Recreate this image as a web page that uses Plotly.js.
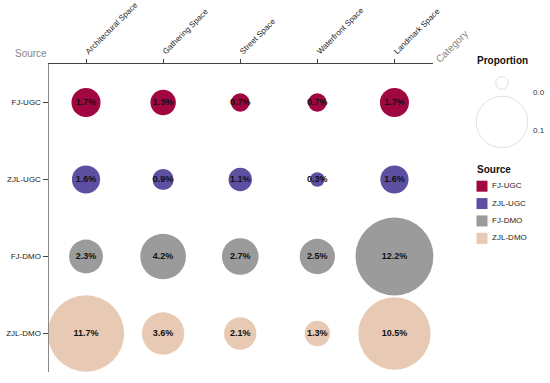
<!DOCTYPE html>
<html><head><meta charset="utf-8">
<script src="https://cdn.plot.ly/plotly-3.0.1.min.js"></script>
<style>body{margin:0;padding:0;background:#fff}#chart{width:550px;height:383px}</style>
</head><body><div id="chart"></div>
<script>
const categories = ["Architectural Space","Gathering Space","Street Space","Waterfront Space","Landmark Space"];
const sources = ["FJ-UGC","ZJL-UGC","FJ-DMO","ZJL-DMO"];
const fjUgc  = [0.017, 0.013, 0.007, 0.007, 0.017];
const zjlUgc = [0.016, 0.009, 0.011, 0.003, 0.016];
const fjDmo  = [0.023, 0.042, 0.027, 0.025, 0.122];
const zjlDmo = [0.117, 0.036, 0.021, 0.013, 0.105];
const seriesValues = [fjUgc, zjlUgc, fjDmo, zjlDmo];
const colors = ["#A0063F","#5E4FA2","#9B9B9B","#E8C9B3"];
const legendValues = [0.0, 0.1];
const legendLabels = ["0.0","0.1"];

function diam(v){ return Math.max(14.5, 22.3*Math.sqrt(v*100)); }
function legDiam(v){ return 12.5 + 390*v; }

const FONT = "Liberation Sans, Arial, sans-serif";
const traces = [];
sources.forEach((s,i)=>{
  traces.push({
    type:'scatter', mode:'markers+text', x: categories, y: categories.map(()=>s),
    text: seriesValues[i].map(v=>(v*100).toFixed(1)+'%'),
    textposition:'middle center',
    textfont:{family:FONT,size:9,color:'#111',weight:'bold'},
    marker:{size: seriesValues[i].map(diam), color: colors[i], opacity:1, line:{width:0}},
    showlegend:false, hoverinfo:'skip', cliponaxis:false
  });
});
// proportion legend
traces.push({type:'scatter', mode:'markers', xaxis:'x2', yaxis:'y2',
  x: legendValues.map(()=>0), y: legendValues,
  marker:{size: legendValues.map(legDiam), color:'rgba(255,255,255,0)', line:{color:'#d4d4d4', width:1}},
  showlegend:false, hoverinfo:'skip', cliponaxis:false});
// source legend
traces.push({type:'scatter', mode:'markers+text', xaxis:'x3', yaxis:'y3',
  x: sources.map(()=>0), y: sources, text: sources.map(s=>' '+s), textposition:'middle right',
  textfont:{family:FONT,size:8,color:'#222'},
  marker:{symbol:'square', size:11, color:colors, line:{width:0}},
  showlegend:false, hoverinfo:'skip', cliponaxis:false});

const W=496, H=308, L=49, T=64;
function px(x){return (x-L)/W;}
function py(y){return (T+H-y)/H;}
function ann(text, x, y, opts){
  return Object.assign({text:text, x:px(x), y:py(y), xref:'paper', yref:'paper', xanchor:'center', yanchor:'middle', showarrow:false}, opts);
}

const annotations = [
  ann('Source', 31, 54, {font:{family:FONT,size:10,color:'#888'}}),
  ann('Category', 452, 47, {textangle:-45, font:{family:FONT,size:10,color:'#888'}}),
  ann('<b>Proportion</b>', 475, 61, {xanchor:'left', font:{family:FONT,size:10,color:'#111'}}),
  ann(legendLabels[0], 531, 93, {xanchor:'left', font:{family:FONT,size:8,color:'#333'}}),
  ann(legendLabels[1], 531, 130, {xanchor:'left', font:{family:FONT,size:8,color:'#333'}}),
  ann('<b>Source</b>', 475, 169, {xanchor:'left', font:{family:FONT,size:10,color:'#111'}})
];

const layout = {
  width:550, height:383, margin:{l:L, r:550-L-W, t:T, b:383-T-H},
  paper_bgcolor:'#fff', plot_bgcolor:'#fff',
  font:{family:FONT, size:9, color:'#222'},
  xaxis:{domain:[0,384/W], type:'category', side:'top', range:[-0.48,4.5], tickangle:-45,
    showgrid:false, zeroline:false, showline:true, linecolor:'#444', linewidth:1,
    ticks:'outside', ticklen:4, tickcolor:'#444', tickfont:{family:FONT,size:8,color:'#222'}, fixedrange:true},
  yaxis:{type:'category', categoryorder:'array', categoryarray:sources, range:[3.5,-0.5],
    showgrid:false, zeroline:false, showline:true, linecolor:'#888', linewidth:1.5,
    ticks:'outside', ticklen:5, tickcolor:'#444', tickfont:{family:FONT,size:8,color:'#222'}, fixedrange:true},
  xaxis2:{domain:[px(480),px(524)], range:[-1,1], visible:false, anchor:'y2'},
  yaxis2:{domain:[py(140),py(70)], range:[0.1462,-0.0333], visible:false, anchor:'x2'},
  xaxis3:{domain:[px(476.5),px(487.5)], range:[-0.5,0.5], visible:false, anchor:'y3'},
  yaxis3:{domain:[py(247),py(177.5)], type:'category', categoryorder:'array', categoryarray:sources, range:[3.5,-0.5], visible:false, anchor:'x3'},
  showlegend:false,
  annotations: annotations
};
Plotly.newPlot('chart', traces, layout, {staticPlot:true, displayModeBar:false});
</script></body></html>
